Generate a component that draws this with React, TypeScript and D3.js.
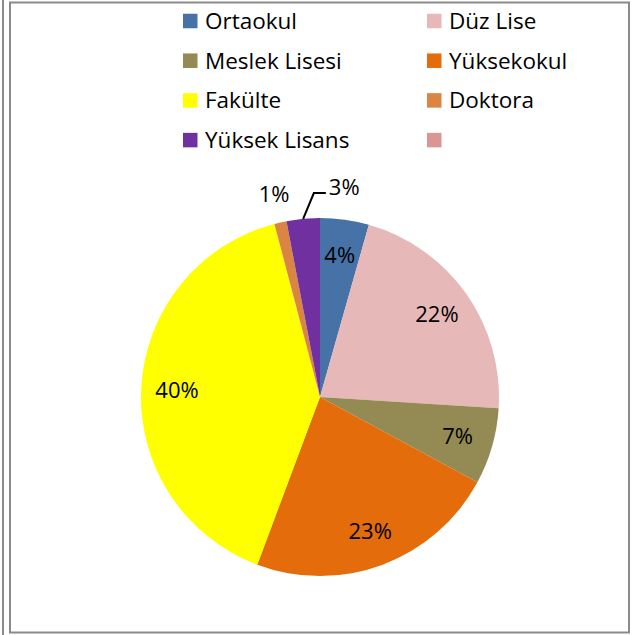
import React from "react";
import * as d3 from "d3";

const categories = ["Ortaokul", "Düz Lise", "Meslek Lisesi", "Yüksekokul", "Fakülte", "Doktora", "Yüksek Lisans", ""];
const values = [4.4, 21.6, 6.9, 22.8, 40.2, 1.1, 3.0, 0];
const colors = ["#4672A8", "#E6B8B7", "#948A54", "#E46C0A", "#FFFF00", "#DA8642", "#7030A0", "#D99694"];

const W = 633;
const H = 635;
const cx = 320;
const cy = 397;
const R = 179;
const FONT = "'Open Sans', 'Noto Sans', sans-serif";

export default function App() {
  const total = d3.sum(values);
  const data = categories.map((c, i) => ({ c, v: values[i], color: colors[i], i }));
  const pie = d3.pie<any>().value((d) => d.v).sort(null);
  const arcs = pie(data).filter((a) => a.data.v > 0);
  const arc = d3.arc<any>().innerRadius(0).outerRadius(R);
  const labelArc = d3.arc<any>().innerRadius(R * 0.8).outerRadius(R * 0.8);
  const outerLabelArc = d3.arc<any>().innerRadius(R * 1.16).outerRadius(R * 1.16);

  const pct = (v: number) => `${Math.round((v / total) * 100)}%`;

  // legend layout
  const legendCols = [183, 427];
  const legendRow0 = 21;
  const legendRowH = 39.7;
  const sw = 14.5;

  return (
    <svg width={W} height={H} style={{ position: "absolute", left: 0, top: 0, background: "#fff" }}>
      {/* frame */}
      <line x1={3} y1={0} x2={3} y2={H} stroke="#8a8a8a" strokeWidth={2} />
      <rect x={10} y={2.5} width={619} height={630} fill="none" stroke="#8a8a8a" strokeWidth={2} />

      {/* slices */}
      <g transform={`translate(${cx},${cy})`}>
        {arcs.map((a) => (
          <path key={a.data.c} d={arc(a) as string} fill={a.data.color} />
        ))}
        {arcs.map((a) => {
          const share = a.data.v / total;
          if (share < 0.02) {
            const [x, y] = outerLabelArc.centroid(a);
            return (
              <text key={"l" + a.data.c} x={x} y={y} dy="0.35em" textAnchor="middle" fontFamily={FONT} fontSize={22} fill="#000">
                {pct(a.data.v)}
              </text>
            );
          }
          if (share < 0.035) {
            const mid = (a.startAngle + a.endAngle) / 2;
            const p0 = [Math.sin(mid) * R, -Math.cos(mid) * R];
            const mid2 = mid + (a.endAngle - mid) * 0.68;
            const r2 = R * 1.14;
            const p1 = [Math.sin(mid2) * r2, -Math.cos(mid2) * r2];
            const p2 = [p1[0] + 12, p1[1]];
            return (
              <g key={"l" + a.data.c}>
                <path d={`M${p0[0]},${p0[1]}L${p1[0]},${p1[1]}L${p2[0]},${p2[1]}`} fill="none" stroke="#000" strokeWidth={2} />
                <text x={p2[0] + 3} y={p2[1] - 6} dy="0.35em" textAnchor="start" fontFamily={FONT} fontSize={22} fill="#000">
                  {pct(a.data.v)}
                </text>
              </g>
            );
          }
          const [x, y] = labelArc.centroid(a);
          return (
            <text key={"l" + a.data.c} x={x} y={y} dy="0.35em" textAnchor="middle" fontFamily={FONT} fontSize={22} fill="#000">
              {pct(a.data.v)}
            </text>
          );
        })}
      </g>

      {/* legend */}
      {data.map((d, i) => {
        const col = i % 2;
        const row = Math.floor(i / 2);
        const x = legendCols[col];
        const y = legendRow0 + row * legendRowH;
        return (
          <g key={"lg" + i}>
            <rect x={x} y={y - sw / 2} width={sw} height={sw} fill={d.color} />
            <text x={x + 22} y={y} dy="0.35em" fontFamily={FONT} fontSize={22.5} fill="#000">
              {d.c}
            </text>
          </g>
        );
      })}
    </svg>
  );
}
